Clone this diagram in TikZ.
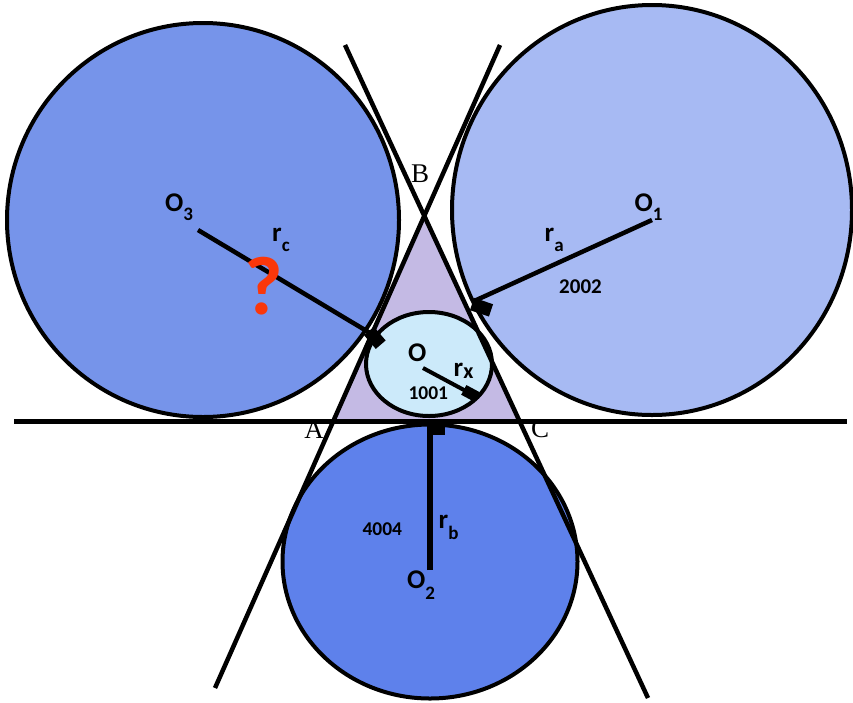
\documentclass[tikz,border=0pt]{standalone}
\usepackage{fontspec}
\newfontfamily\lblfont{Carlito}
\newfontfamily\abcfont{Liberation Serif}
\usetikzlibrary{calc}
\definecolor{cleft}{RGB}{118,148,234}
\definecolor{cright}{RGB}{167,186,243}
\definecolor{cbottom}{RGB}{94,129,235}
\definecolor{cinner}{RGB}{204,234,250}
\definecolor{ctri}{RGB}{196,186,228}
\definecolor{qred}{RGB}{250,55,10}
\newcommand\mainsub[3]{{\fontsize{27}{27}\selectfont #1}\raisebox{-#3pt}{\fontsize{19}{19}\selectfont #2}}
\newcommand\numtxt[2]{{\fontsize{#1}{#1}\selectfont #2}}
\begin{document}
\begin{tikzpicture}[x=1pt,y=-1pt,line join=round,
  circ/.style={draw=black,line width=4pt},
  tline/.style={draw=black,line width=4.5pt},
  rad/.style={draw=black,line width=4.5pt},
  rtbox/.style={draw=black,line width=13pt,line cap=butt},
  lbl/.style={inner sep=0pt,anchor=base west,font=\lblfont\bfseries},
  abc/.style={inner sep=0pt,font=\abcfont\fontsize{27}{27}\selectfont}]
\useasboundingbox (0,0) rectangle (853,702);

% circles
\path[circ,fill=cleft] (203,220) ellipse [x radius=196pt, y radius=197pt];
\path[circ,fill=cright] (652,210) ellipse [x radius=200pt, y radius=205pt];
\path[circ,fill=cbottom] (430,561.5) ellipse [x radius=147.5pt, y radius=137pt];

% triangle
\coordinate (B) at (424.3,215.9);
\coordinate (A) at (333.1,421.5);
\coordinate (C) at (519.7,421.5);
\fill[ctri] (A) -- (B) -- (C) -- cycle;

% inner circle
\path[circ,fill=cinner] (429,364) ellipse [x radius=63pt, y radius=52pt];

% lines
\coordinate (L1a) at (500,45);
\coordinate (L1b) at (215,688);
\coordinate (L2a) at (345,45);
\coordinate (L2b) at (648,698);
\coordinate (H1) at (14,421.5);
\coordinate (H2) at (847,421.5);
\draw[tline] (L1a) -- (L1b);
\draw[tline] (L2a) -- (L2b);
\draw[tline,line width=5pt] (H1) -- (H2);

% radii
\coordinate (O3) at (198,230);
\coordinate (T3) at (370,333);
\coordinate (O1) at (652,220);
\coordinate (T1) at (472,302);
\coordinate (O2) at (430,570);
\coordinate (T2) at (430,424);
\coordinate (OX) at (423,368);
\coordinate (TX) at (477,397);
\draw[rad] (O3) -- (T3);
\draw[rad] (O1) -- (T1);
\draw[rad,line width=5.5pt] (O2) -- (T2);
\draw[rad,line width=4pt] (OX) -- (TX);

% right-angle marks
\draw[rtbox] ($(T3)+(-1,-2)$) -- ($(T3)+(-1,-2)!18pt!(O3)$);
\draw[rtbox] ($(T1)+(0,2)$) -- ($(T1)+(0,2)!20pt!(O1)$);
\fill[black] (430,423.5) rectangle (445,435);
\draw[rtbox,line width=11pt] (TX) -- ($(TX)!15pt!(OX)$);

% labels
\node[lbl] (lO3) at (165,211.7) {\mainsub{O}{3}{9}};
\node[lbl] (lrc) at (272,241.7) {\mainsub{r}{c}{10}};
\node[lbl] (lO1) at (634.5,211.7) {\mainsub{O}{1}{9}};
\node[lbl] (lra) at (544.5,241.7) {\mainsub{r}{a}{10}};
\node[lbl] (l2002) at (559,293.3) {\numtxt{21}{2002}};
\node[lbl] (lO) at (408,361.7) {\numtxt{27}{O}};
\node[lbl] (lrx) at (453.5,376.7) {\numtxt{27}{r}\raisebox{-1.6pt}{\numtxt{22}{x}}};
\node[lbl] (l1001) at (408.3,399.3) {\numtxt{19.5}{1001}};
\node[lbl] (l4004) at (362.3,535) {\numtxt{19.5}{4004}};
\node[lbl] (lrb) at (438.5,528.3) {\mainsub{r}{b}{11}};
\node[lbl] (lO2) at (407,588.3) {\mainsub{O}{2}{11}};
\node[inner sep=0pt,anchor=base,font=\lblfont\bfseries,text=qred] (q) at (264,314) {\fontsize{83}{83}\selectfont ?};
\node[abc] (lA) at (314,430) {A};
\node[abc] (lB) at (420,174) {B};
\node[abc] (lC) at (540,429) {C};
\end{tikzpicture}
\end{document}
